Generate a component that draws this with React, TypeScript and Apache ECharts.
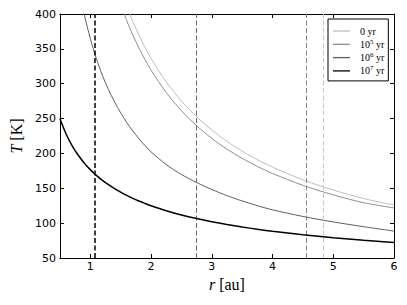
import React, { useEffect, useRef } from "react";
import * as echarts from "echarts";

// radius samples [au]
const R = [0.5, 0.6, 0.7, 0.8, 0.9, 1.0, 1.1, 1.2, 1.3, 1.4, 1.5, 1.6, 1.7, 1.8, 1.9, 2.0, 2.25, 2.5, 2.75, 3.0, 3.25, 3.5, 3.75, 4.0, 4.5, 5.0, 5.5, 6.0];

// temperatures [K]
const T_0YR = [null, null, null, null, null, null, null, null, null, null, 435.6, 411.2, 389.4, 369.9, 352.4, 336.4, 302.6, 275.2, 252.6, 233.6, 217.3, 203.3, 191.1, 180.3, 162.1, 147.5, 135.3, 126];
const T_1E5 = [null, null, null, null, null, null, null, null, null, null, 413.8, 390.6, 369.9, 351.4, 334.8, 319.6, 287.5, 261.4, 239.8, 221.5, 206.2, 193.0, 181.4, 171.2, 154.2, 140.6, 129.3, 121.8];
const T_1E6 = [null, null, null, 443, 400, 365, 336, 312, 291.6, 273.9, 258.3, 244.5, 232.2, 221.3, 211.3, 202.3, 184, 169.8, 158.3, 148.3, 139.5, 131.9, 125.1, 119.1, 109.6, 101.7, 94.9, 88.6];
const T_1E7 = [250, 228.2, 211.3, 197.7, 186.4, 176.8, 168.6, 161.4, 155.1, 149.4, 144.4, 139.8, 135.6, 131.8, 128.3, 125.0, 117.9, 111.8, 106.6, 102.1, 98.1, 94.5, 91.3, 88.4, 83.3, 79.1, 75.4, 72.2];

// snow line positions [au]
const SNOW_0YR = 4.838;
const SNOW_1E5 = 4.561;
const SNOW_1E6 = 2.741;
const SNOW_1E7 = 1.074;

const SERIES_NAMES = ["0 yr", "10^5 yr", "10^6 yr", "10^7 yr"];
const X_TICKS = [1, 2, 3, 4, 5, 6];
const Y_MIN = 50;
const Y_MAX = 400;
const Y_STEP = 50;
const X_MIN = 0.5;
const X_MAX = 6;

const pairs = (ys: (number | null)[]) => R.map((x, i) => [x, ys[i]]);

export default function App() {
  const ref = useRef<HTMLDivElement>(null);
  useEffect(() => {
    document.body.style.margin = "0";
    if (!ref.current) return;
    const chart = echarts.init(ref.current, undefined, { renderer: "svg" });
    const serif = "Liberation Serif";
    const sans = "DejaVu Sans";
    const colors = ["#bdbdbd", "#8e8e8e", "#5e5e5e", "#000000"];
    const snowColors = ["#c6c6c6", "#828282", "#6a6a6a", "#000000"];
    const snows = [SNOW_0YR, SNOW_1E5, SNOW_1E6, SNOW_1E7];
    const datas = [T_0YR, T_1E5, T_1E6, T_1E7];
    const widths = [1, 1, 1, 1.5];

    const frameLine = { show: true, lineStyle: { color: "#000", width: 1 } };
    const tick = { show: true, inside: true, length: 4, lineStyle: { color: "#000", width: 1 } };

    chart.setOption({
      animation: false,
      grid: { left: 56, right: 13, top: 14, bottom: 47, containLabel: false },
      xAxis: [
        {
          type: "value",
          min: X_MIN,
          max: X_MAX,
          position: "bottom",
          axisLine: { ...frameLine, onZero: false },
          axisTick: { ...tick, customValues: X_TICKS },
          axisLabel: { customValues: X_TICKS, color: "#000", fontFamily: sans, fontSize: 11, margin: 3 },
          splitLine: { show: false },
          name: "{i|r} [au]",
          nameLocation: "middle",
          nameGap: 14,
          nameTextStyle: {
            fontFamily: serif,
            fontSize: 16,
            color: "#000",
            rich: { i: { fontFamily: serif, fontSize: 16, fontStyle: "italic", color: "#000" } },
          },
        },
        {
          type: "value",
          min: X_MIN,
          max: X_MAX,
          position: "top",
          axisLine: { ...frameLine, onZero: false },
          axisTick: { ...tick, customValues: X_TICKS },
          axisLabel: { show: false, customValues: X_TICKS },
          splitLine: { show: false },
        },
      ],
      yAxis: [
        {
          type: "value",
          min: Y_MIN,
          max: Y_MAX,
          interval: Y_STEP,
          position: "left",
          axisLine: { ...frameLine, onZero: false },
          axisTick: tick,
          axisLabel: { color: "#000", fontFamily: sans, fontSize: 11, margin: 4 },
          splitLine: { show: false },
          name: "{i|T} [K]",
          nameLocation: "middle",
          nameRotate: 90,
          nameGap: 28,
          nameTextStyle: {
            fontFamily: serif,
            fontSize: 16,
            color: "#000",
            rich: { i: { fontFamily: serif, fontSize: 16, fontStyle: "italic", color: "#000" } },
          },
        },
        {
          type: "value",
          min: Y_MIN,
          max: Y_MAX,
          interval: Y_STEP,
          position: "right",
          axisLine: { ...frameLine, onZero: false },
          axisTick: tick,
          axisLabel: { show: false },
          splitLine: { show: false },
        },
      ],
      legend: {
        left: 328,
        top: 19,
        orient: "vertical",
        selectedMode: false,
        icon: "rect",
        itemWidth: 17,
        itemHeight: 1.3,
        itemGap: 2.3,
        padding: [7, 4, 5, 5],
        borderColor: "#000",
        borderWidth: 1,
        borderRadius: 0,
        backgroundColor: "#fff",
        data: SERIES_NAMES,
        formatter: (name: string) => {
          const m = name.match(/^(\d+)\^(\d+) (.*)$/);
          if (m) return `{b|${m[1]}}{sup|${m[2]}}{b| ${m[3]}}`;
          return `{b|${name}}`;
        },
        textStyle: {
          fontFamily: serif,
          fontSize: 10,
          color: "#000",
          padding: [0, 0, 0, 5],
          rich: {
            b: { fontFamily: serif, fontSize: 10, color: "#000", lineHeight: 12, verticalAlign: "middle" },
            sup: { fontFamily: serif, fontSize: 7, color: "#000", lineHeight: 9, verticalAlign: "top" },
          },
        },
      },
      series: SERIES_NAMES.map((name, i) => ({
        name,
        type: "line",
        data: pairs(datas[i]),
        showSymbol: false,
        symbol: "none",
        smooth: 0.3,
        connectNulls: false,
        clip: true,
        z: 2 + i,
        itemStyle: { color: colors[i] },
        lineStyle: { color: colors[i], width: widths[i] },
        emphasis: { disabled: true },
        markLine: {
          silent: true,
          symbol: ["none", "none"],
          label: { show: false },
          emphasis: { disabled: true },
          lineStyle: { color: snowColors[i], width: widths[i], type: [5, 2.5] },
          data: [{ xAxis: snows[i] }],
        },
      })),
    });
    return () => chart.dispose();
  }, []);
  return <div ref={ref} style={{ width: 407, height: 305 }} />;
}
